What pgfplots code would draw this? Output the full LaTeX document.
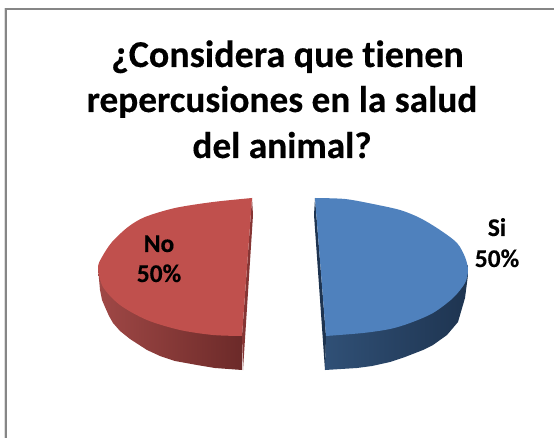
\documentclass[border=0pt]{standalone}
\usepackage{fontspec}
\setmainfont{Carlito}[Ligatures=NoCommon,BoldFeatures={FakeBold=0.3}]
\usepackage{pgfplots}
\pgfplotsset{compat=1.18}
\definecolor{redtop}{RGB}{192,80,77}
\definecolor{redl}{RGB}{160,72,70}
\definecolor{redr}{RGB}{108,42,41}
\definecolor{bluetop}{RGB}{79,129,189}
\definecolor{bluel}{RGB}{48,80,118}
\definecolor{bluer}{RGB}{30,52,80}
\definecolor{framec}{RGB}{134,134,134}
\definecolor{framel}{RGB}{222,222,222}
\begin{document}
\begin{tikzpicture}
\begin{axis}[
  scale only axis, width=554pt, height=438pt,
  xmin=0, xmax=554, ymin=0, ymax=438, y dir=reverse,
  axis line style={draw=none}, ticks=none, clip=true
]
% frame
\addplot[framel, line width=1pt] coordinates {(4.5,438) (4.5,8)};
\addplot[framec, line width=2.2pt] coordinates {(6,438) (6,9) (554,9)};
% red side (hidden part runs under the top face)
\addplot[draw=none, shade, left color=redl, right color=redr] coordinates {
 (98,268) (100,290) (102,300) (105,307) (109,316) (113,323) (120,331) (130,339) (147,350) (160,356) (175,361) (197,365) (215,368) (242,370) (242,320) (110,280)} -- cycle;
% red sliver
\addplot[fill=redr!70!redtop, draw=none] coordinates {(252,198) (253,215) (243,370) (242,336)} -- cycle;
% red top
\addplot[fill=redtop, draw=none, smooth] coordinates {
 (252,198) (213,202) (175,208) (145,217) (128,227) (112,242) (102,257) (98,268) (103,287) (120,305) (147,320) (180,330) (213,335) (242,336)};
% blue side
\addplot[draw=none, shade, left color=bluel, middle color=bluer, right color=bluer] coordinates {
 (325,370) (357,368) (372,366) (390,362) (405,357) (423,350) (433,345) (447,335) (458,322) (465,298) (468,275) (468,265) (450,280) (326,320)} -- cycle;
% blue sliver
\addplot[fill=bluer, draw=none] coordinates {(315,198) (314,215) (325,370) (326,336)} -- cycle;
% blue top
\addplot[fill=bluetop, draw=none, smooth] coordinates {
 (315,198) (345,199) (373,204) (400,210) (420,218) (440,230) (457,243) (465,257) (468,270) (465,283) (453,298) (433,313) (410,323) (390,329) (363,333) (326,336)};
% title
\node[font=\fontsize{38}{42}\bfseries\selectfont, anchor=base] at (axis cs:287.5,67) {¿Considera que tienen};
\node[font=\fontsize{37.3}{42}\bfseries\selectfont, anchor=base] at (axis cs:282,112) {repercusiones en la salud};
\node[font=\fontsize{37.3}{42}\bfseries\selectfont, anchor=base] at (axis cs:282,158) {del animal?};
% labels
\node[font=\fontsize{25.5}{30}\bfseries\selectfont, anchor=base] at (axis cs:159,252) {No};
\node[font=\fontsize{25.5}{30}\bfseries\selectfont, anchor=base] at (axis cs:159,282) {50\%};
\node[font=\fontsize{25.5}{30}\bfseries\selectfont, anchor=base] at (axis cs:497,236) {Si};
\node[font=\fontsize{25.5}{30}\bfseries\selectfont, anchor=base] at (axis cs:497,267) {50\%};
\end{axis}
\end{tikzpicture}
\end{document}
